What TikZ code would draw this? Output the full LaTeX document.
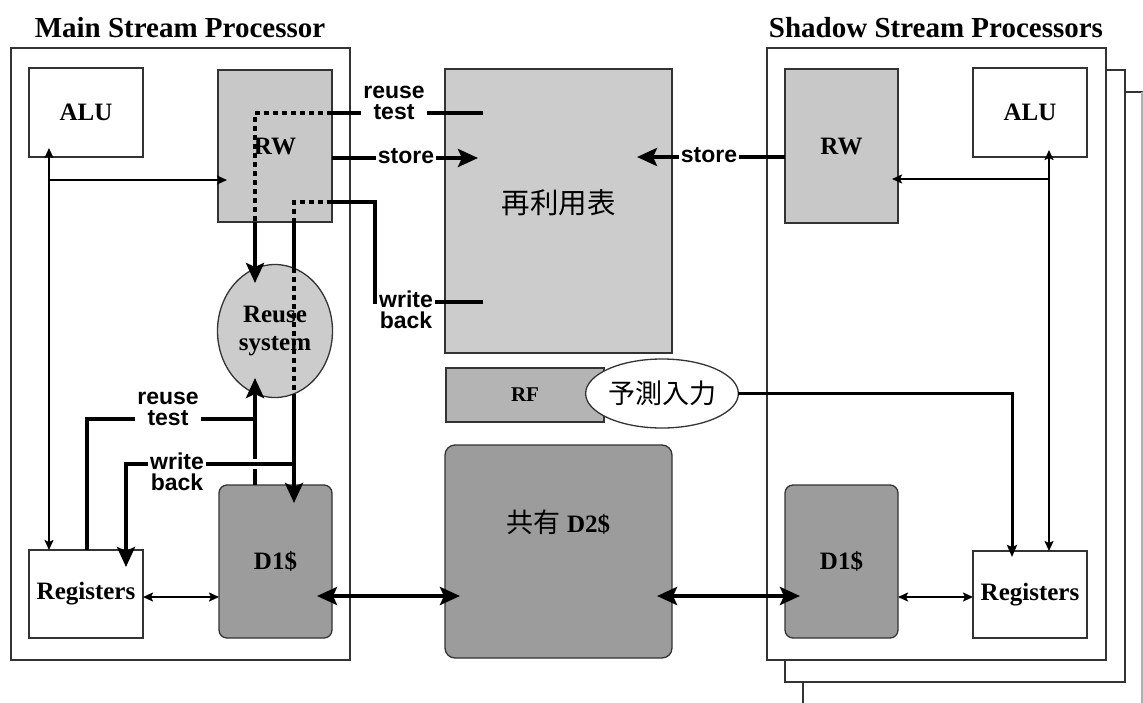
\documentclass[tikz,border=0pt]{standalone}
\usepackage{fontspec}
\setmainfont{Liberation Serif}
\newfontfamily\lsans{Liberation Sans}
\newfontfamily\cjk{Noto Sans CJK JP}
\usetikzlibrary{arrows.meta,shapes.geometric}
\definecolor{bd}{HTML}{333333}
\definecolor{lg}{HTML}{CCCCCC}
\definecolor{rwc}{HTML}{C8C8C8}
\definecolor{dg}{HTML}{9C9C9C}
\definecolor{mg}{HTML}{B4B4B4}
\definecolor{fe}{HTML}{B0B0B0}
\begin{document}
\begin{tikzpicture}[x=1pt,y=-1pt,
  BigA/.tip={Stealth[length=20pt,width=18pt,inset=4pt]},
  SmA/.tip={Stealth[length=10pt,width=9pt,inset=2pt]},
  MidA/.tip={Stealth[length=12pt,width=10pt,inset=2pt]},
  frame/.style={draw=bd, line width=1.3pt, fill=white, inner sep=0pt, outer sep=0pt},
  blk/.style={draw=bd, line width=1.3pt, inner sep=0pt, outer sep=0pt,
              font=\bfseries\fontsize{25}{27}\selectfont, align=center},
  ttl/.style={font=\bfseries\fontsize{29}{31}\selectfont, inner sep=0pt},
  lab/.style={font=\lsans\bfseries\fontsize{23}{21}\selectfont, fill=white,
              inner xsep=2pt, inner ysep=0pt, align=center},
  tl/.style={line width=4.5pt},
  dl/.style={line width=3.6pt, dash pattern=on 5pt off 4pt},
  th/.style={line width=1.8pt},
  pl/.style={line width=3pt}]
\clip (0,0) rectangle (1143,702);
\fill[white] (0,0) rectangle (1143,702);

% titles
\node[ttl] (t1) at (180,28) {Main Stream Processor};
\node[ttl] (t2) at (936,28) {Shadow Stream Processors};

% frames
\node[frame, minimum width=339pt, minimum height=640pt] (s3) at (972.5,412) {};
\draw[fe, line width=1.3pt] (s3.north east) -- (s3.south east);
\node[frame, minimum width=340pt, minimum height=612pt] (s2) at (955,376) {};
\node[frame, minimum width=339pt, minimum height=612pt] (s1) at (936.5,354) {};
\node[frame, minimum width=339pt, minimum height=612pt] (mp) at (180.5,354) {};

% main processor blocks
\node[blk, fill=white, minimum width=114pt, minimum height=89pt] (aluL) at (86,112.5) {ALU};
\node[blk, fill=rwc, minimum width=114pt, minimum height=152pt] (rwL) at (275,146) {RW};
\node[blk, ellipse, fill=lg, minimum width=115pt, minimum height=133pt] (rs) at (275,331) {Reuse\\[1pt]system};
\node[blk, fill=white, minimum width=114pt, minimum height=88pt] (regL) at (86,594) {Registers};
\node[blk, fill=dg, rounded corners=8pt, minimum width=113pt, minimum height=153pt] (d1L) at (275.5,561.5) {D1\$};

% shared blocks
\node[blk, fill=lg, minimum width=227pt, minimum height=284pt,
      label={[font=\cjk\fontsize{28.5}{30}\selectfont, yshift=8pt]center:再利用表}] (tbl) at (558.5,211) {};
\node[blk, fill=mg, minimum width=158pt, minimum height=54pt,
      font=\bfseries\fontsize{21}{22}\selectfont] (rf) at (525,395) {RF};
\node[draw=bd, line width=1.3pt, ellipse, fill=white, inner sep=0pt, outer sep=0pt,
      minimum width=152pt, minimum height=69pt,
      font=\cjk\fontsize{27}{28}\selectfont] (pred) at (662,393.5) {予測入力};
\node[blk, fill=dg, rounded corners=10pt, minimum width=227pt, minimum height=213pt,
      label={[font=\bfseries\fontsize{25}{26}\selectfont, yshift=29.5pt]center:{{\cjk\mdseries\fontsize{27}{28}\selectfont 共有} D2\$}}] (d2) at (558.5,551.5) {};

% shadow processor blocks
\node[blk, fill=rwc, minimum width=113pt, minimum height=154pt] (rwR) at (841.5,146) {RW};
\node[blk, fill=white, minimum width=114pt, minimum height=89pt] (aluR) at (1030,112.5) {ALU};
\node[blk, fill=dg, rounded corners=8pt, minimum width=113pt, minimum height=153pt] (d1R) at (841.5,561.5) {D1\$};
\node[blk, fill=white, minimum width=114pt, minimum height=87pt] (regR) at (1030,594.5) {Registers};

% coordinates
\coordinate (jL) at (49,180);
\coordinate (jR) at (1049,179);
\coordinate (ry) at (0,597);
\coordinate (by) at (0,596);
\coordinate (rtT) at (483,113);
\coordinate (rtC) at (255,113);
\coordinate (rtTip) at (255,283);
\coordinate (stL) at (478,158);
\coordinate (stR) at (637,157);
\coordinate (wbT) at (483,302);
\coordinate (wbK) at (375,302);
\coordinate (wbJ) at (375,202);
\coordinate (wbC) at (294,202);
\coordinate (eT2) at (294,268);
\coordinate (eB2) at (294,394);
\coordinate (rbK) at (87,419);
\coordinate (rbJ) at (255,419);
\coordinate (rbTip) at (255,378);
\coordinate (wbB) at (294,464);
\coordinate (wbM) at (200,464);
\coordinate (wbL) at (126,464);
\coordinate (pkx) at (1012,0);

% thin connectors
\draw[th, {SmA}-{SmA}, shorten <=-9pt] (aluL.south -| jL) -- (regL.north -| jL);
\draw[th, -{SmA}, shorten >=-9pt] (jL) -- (rwL.west |- jL);
\draw[th, {SmA}-{SmA}, shorten <=-7pt] (aluR.south -| jR) -- (regR.north -| jR);
\draw[th, -{SmA}, shorten >=-6pt] (jR) -- (rwR.east |- jR);
\draw[th, {SmA}-{SmA}] (regL.east |- ry) -- (d1L.west |- ry);
\draw[th, {SmA}-{SmA}] (d1R.east |- ry) -- (regR.west |- ry);

% thick cache arrows
\draw[tl, {BigA}-{BigA}, shorten <=-15pt, shorten >=-15pt] (d1L.east |- by) -- (d2.west |- by);
\draw[tl, {BigA}-{BigA}, shorten <=-15pt, shorten >=-15pt] (d2.east |- by) -- (d1R.west |- by);

% store
\draw[tl, -{BigA}] (rwL.east |- stL) -- (stL);
\draw[tl, -{BigA}] (rwR.west |- stR) -- (stR);

% reuse test (top)
\draw[tl] (rtT) -- (rwL.east |- rtT);
\draw[dl] (rwL.east |- rtT) -- (rtC) -- (rwL.south -| rtC);
\draw[tl, -{BigA}] (rwL.south -| rtC) -- (rtTip);

% reuse test (bottom)
\draw[tl] (regL.north -| rbK) -- (rbK) -- (rbJ);
\draw[tl, -{BigA}] (d1L.north -| rbJ) -- (rbTip);

% write back (bottom)
\draw[tl, preaction={draw=white, line width=10pt}] (wbB) -- (wbM);
\draw[tl, -{BigA}, shorten >=-17pt] (wbM) -- (wbL) -- (regL.north -| wbL);

% write back (top)
\draw[tl] (wbT) -- (wbK) -- (wbJ) -- (rwL.east |- wbJ);
\draw[dl] (rwL.east |- wbJ) -- (wbC) -- (rwL.south -| wbC);
\draw[tl] (rwL.south -| wbC) -- (eT2);
\draw[dl] (eT2) -- (eB2);
\draw[tl, -{BigA}, shorten >=-18pt] (eB2) -- (d1L.north -| eB2);

% predicted input
\draw[pl, -{MidA}, shorten >=-6pt] (pred.east) -- (pred.east -| pkx) -- (regR.north -| pkx);

% labels
\node[lab] (lrt) at (394,102.5) {reuse\\test};
\node[lab] (lst) at (406,156) {store};
\node[lab] (lwb) at (406,310) {write\\back};
\node[lab] (lst2) at (709,155) {store};
\node[lab] (lrb) at (168,408.5) {reuse\\test};
\node[lab] (lwb2) at (177,472) {write\\back};
\end{tikzpicture}
\end{document}
